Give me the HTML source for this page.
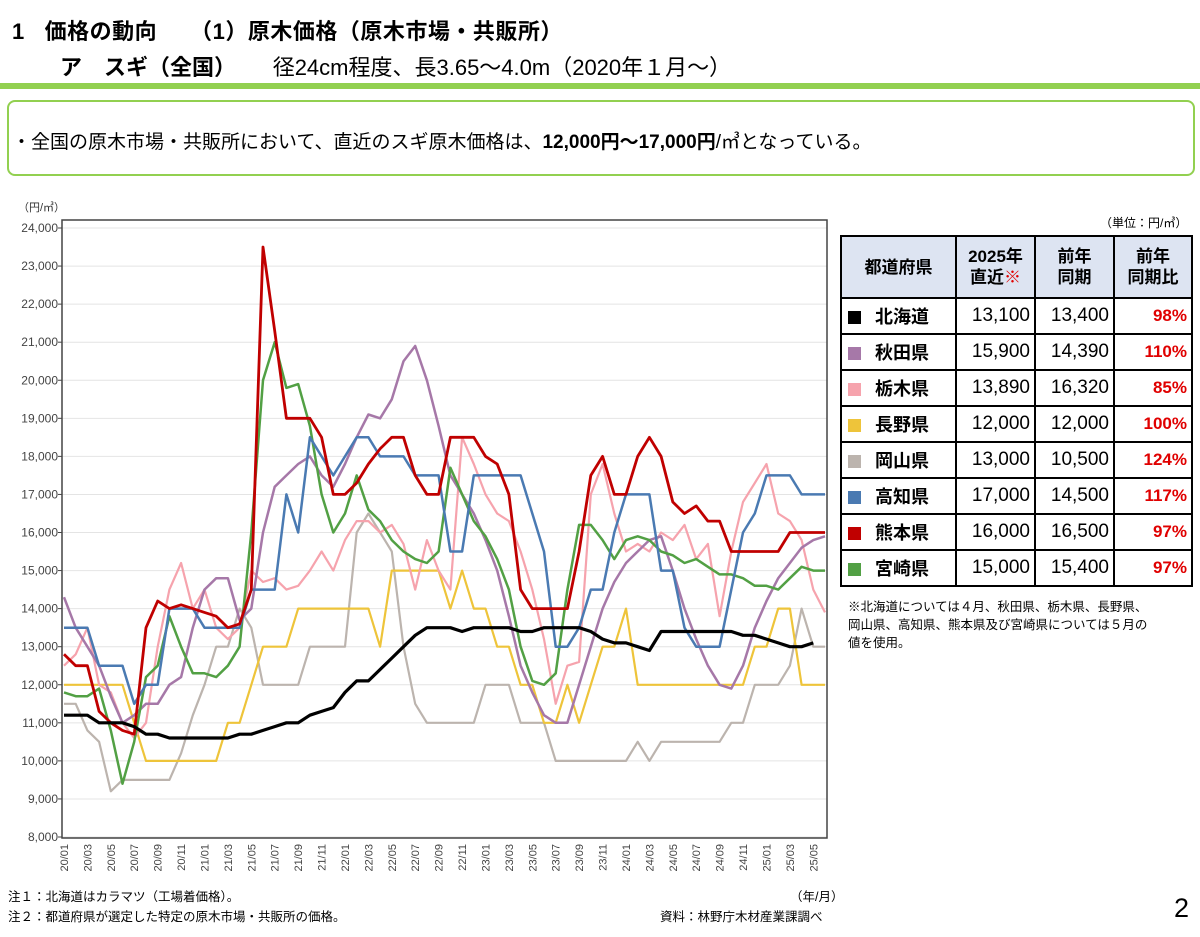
<!DOCTYPE html>
<html><head><meta charset="utf-8">
<style>
*{margin:0;padding:0;box-sizing:border-box}
body{width:1200px;height:937px;background:#fff;position:relative;overflow:hidden;font-family:"Liberation Sans","Noto Sans CJK JP",sans-serif;color:#000}
.abs{position:absolute;white-space:nowrap}
table{border-collapse:collapse;position:absolute;left:840px;top:235px;width:353px;font-family:"Liberation Sans","Noto Sans CJK JP",sans-serif}
td,th{border:2px solid #000;height:36px;font-size:18px;font-weight:bold}
th{background:#dde4f2;height:62px;font-size:17px;line-height:21px}
td.n{text-align:right;padding-right:4px;font-weight:normal;font-size:19px}
td.p{text-align:right;color:#e00000;padding-right:4px;font-size:17px}
.sw{display:inline-block;width:13px;height:13px;margin:0 14px 0 6px;vertical-align:-1px}
</style></head><body>
<div class="abs" style="left:12px;top:14px;font-size:22px;font-weight:bold;letter-spacing:0.5px">1&nbsp;&nbsp;&nbsp;価格の動向&nbsp;&nbsp;&nbsp;&nbsp;&nbsp;（1）原木価格（原木市場・共販所）</div>
<div class="abs" style="left:60px;top:50px;font-size:22px"><b>ア　スギ（全国）</b>&nbsp;&nbsp;&nbsp;&nbsp;&nbsp;&nbsp;径24cm程度、長3.65～4.0m（2020年１月～）</div>
<div class="abs" style="left:0;top:83px;width:1200px;height:6px;background:#92d050"></div>
<div class="abs" style="left:7px;top:100px;width:1188px;height:76px;border:2.5px solid #92d050;border-radius:8px"></div>
<div class="abs" style="left:12px;top:127px;font-size:19px">・全国の原木市場・共販所において、直近のスギ原木価格は、<b>12,000円～17,000円</b>/㎥となっている。</div>

<svg id="chart" width="1200" height="937" style="position:absolute;left:0;top:0"></svg>

<div class="abs" style="left:1100px;top:214px;font-size:12px">（単位：円/㎥）</div>
<table>
<tr><th style="width:115px">都道府県</th><th style="width:79px">2025年<br>直近<span style="color:#e00000">※</span></th><th style="width:79px">前年<br>同期</th><th>前年<br>同期比</th></tr>
<tr><td><span class="sw" style="background:#000"></span>北海道</td><td class="n">13,100</td><td class="n">13,400</td><td class="p">98%</td></tr>
<tr><td><span class="sw" style="background:#a678a8"></span>秋田県</td><td class="n">15,900</td><td class="n">14,390</td><td class="p">110%</td></tr>
<tr><td><span class="sw" style="background:#f6a3ad"></span>栃木県</td><td class="n">13,890</td><td class="n">16,320</td><td class="p">85%</td></tr>
<tr><td><span class="sw" style="background:#eec43a"></span>長野県</td><td class="n">12,000</td><td class="n">12,000</td><td class="p">100%</td></tr>
<tr><td><span class="sw" style="background:#bcb4ae"></span>岡山県</td><td class="n">13,000</td><td class="n">10,500</td><td class="p">124%</td></tr>
<tr><td><span class="sw" style="background:#4a7ab2"></span>高知県</td><td class="n">17,000</td><td class="n">14,500</td><td class="p">117%</td></tr>
<tr><td><span class="sw" style="background:#c00000"></span>熊本県</td><td class="n">16,000</td><td class="n">16,500</td><td class="p">97%</td></tr>
<tr><td><span class="sw" style="background:#52a044"></span>宮崎県</td><td class="n">15,000</td><td class="n">15,400</td><td class="p">97%</td></tr>
</table>
<div class="abs" style="left:848px;top:598px;font-size:12.5px;line-height:18px">※北海道については４月、秋田県、栃木県、長野県、<br>岡山県、高知県、熊本県及び宮崎県については５月の<br>値を使用。</div>
<div class="abs" style="left:8px;top:886px;font-size:12.5px">注１：北海道はカラマツ（工場着価格）。</div>
<div class="abs" style="left:8px;top:906px;font-size:12.5px">注２：都道府県が選定した特定の原木市場・共販所の価格。</div>
<div class="abs" style="left:790px;top:886px;font-size:12.5px">（年/月）</div>
<div class="abs" style="left:660px;top:906px;font-size:12.5px">資料：林野庁木材産業課調べ</div>
<div class="abs" style="left:1174px;top:893px;font-size:27px">2</div>

<script>
const months = [];
for (let y=20;y<=25;y++) for (let m=1;m<=12;m++) months.push(String(y).padStart(2,'0')+'/'+String(m).padStart(2,'0'));
const categories = months.slice(0,66);
const yTicks = [8000,9000,10000,11000,12000,13000,14000,15000,16000,17000,18000,19000,20000,21000,22000,23000,24000];
const hokkaido = [11200,11200,11200,11000,11000,11000,10900,10700,10700,10600,10600,10600,10600,10600,10600,10700,10700,10800,10900,11000,11000,11200,11300,11400,11800,12100,12100,12400,12700,13000,13300,13500,13500,13500,13400,13500,13500,13500,13500,13400,13400,13500,13500,13500,13500,13400,13200,13100,13100,13000,12900,13400,13400,13400,13400,13400,13400,13400,13300,13300,13200,13100,13000,13000,13100,null];
const akita = [14300,13500,13000,12500,11700,11000,11200,11500,11500,12000,12200,13500,14500,14800,14800,13700,14000,16000,17200,17500,17800,18000,17500,17200,17800,18500,19100,19000,19500,20500,20900,20000,18800,17500,17000,16500,15800,15000,13800,12500,11800,11200,11000,11000,12000,13000,14000,14700,15200,15500,15800,15900,15000,14000,13200,12500,12000,11900,12500,13500,14200,14800,15200,15600,15800,15900];
const tochigi = [12500,12800,13500,12000,11800,11000,10600,11000,13000,14500,15200,14000,14500,13500,13200,13500,15000,14700,14800,14500,14600,15000,15500,15000,15800,16300,16300,16000,16200,15700,14500,15800,15000,14500,18500,17800,17000,16500,16300,15500,14500,13200,11500,12500,12600,17000,17800,16500,15500,15700,15500,16000,15800,16200,15300,15700,13800,15500,16800,17300,17800,16500,16300,15800,14500,13900];
const nagano = [12000,12000,12000,12000,12000,12000,11000,10000,10000,10000,10000,10000,10000,10000,11000,11000,12000,13000,13000,13000,14000,14000,14000,14000,14000,14000,14000,13000,15000,15000,15000,15000,15000,14000,15000,14000,14000,13000,13000,12000,12000,11000,11000,12000,11000,12000,13000,13000,14000,12000,12000,12000,12000,12000,12000,12000,12000,12000,12000,13000,13000,14000,14000,12000,12000,12000];
const okayama = [11500,11500,10800,10500,9200,9500,9500,9500,9500,9500,10200,11200,12000,13000,13000,14000,13500,12000,12000,12000,12000,13000,13000,13000,13000,16000,16500,16000,15500,13000,11500,11000,11000,11000,11000,11000,12000,12000,12000,11000,11000,11000,10000,10000,10000,10000,10000,10000,10000,10500,10000,10500,10500,10500,10500,10500,10500,11000,11000,12000,12000,12000,12500,14000,13000,13000];
const kochi = [13500,13500,13500,12500,12500,12500,11500,12000,12000,14000,14000,14000,13500,13500,13500,13500,14500,14500,14500,17000,16000,18500,18000,17500,18000,18500,18500,18000,18000,18000,17500,17500,17500,15500,15500,17500,17500,17500,17500,17500,16500,15500,13000,13000,13500,14500,14500,16000,17000,17000,17000,15000,15000,13500,13000,13000,13000,14500,16000,16500,17500,17500,17500,17000,17000,17000];
const kumamoto = [12800,12500,12500,11300,11000,10800,10700,13500,14200,14000,14100,14000,13900,13800,13500,13600,14500,23500,21300,19000,19000,19000,18500,17000,17000,17300,17800,18200,18500,18500,17500,17000,17000,18500,18500,18500,18000,17800,17000,14500,14000,14000,14000,14000,15500,17500,18000,17000,17000,18000,18500,18000,16800,16500,16700,16300,16300,15500,15500,15500,15500,15500,16000,16000,16000,16000];
const miyazaki = [11800,11700,11700,11900,10800,9400,10500,12200,12500,13800,13000,12300,12300,12200,12500,13000,16000,20000,21000,19800,19900,18800,17000,16000,16500,17500,16600,16300,15800,15500,15300,15200,15500,17700,17000,16300,15900,15300,14500,13000,12100,12000,12300,14500,16200,16200,15800,15300,15800,15900,15800,15500,15400,15200,15300,15100,14900,14900,14800,14600,14600,14500,14800,15100,15000,15000];

const NS='http://www.w3.org/2000/svg';
const svg=document.getElementById('chart');
const L=62,R=827,T=220,B=838;
const vMin=8000,vMax=24000,yTop=228,yBot=837;
function y(v){return yBot-(v-vMin)/(vMax-vMin)*(yBot-yTop);}
const x0=64,x1=825;
function x(i){return x0+i*(x1-x0)/(categories.length-1);}
function mk(tag,attrs){const e=document.createElementNS(NS,tag);for(const k in attrs)e.setAttribute(k,attrs[k]);svg.appendChild(e);return e;}

const unit=mk('text',{x:18,y:211,'font-size':11,fill:'#333'});
unit.textContent='（円/㎥）';


yTicks.forEach(v=>{
  const g=mk('line',{x1:L,x2:R,y1:y(v),y2:y(v),stroke:'#e4e4e4','stroke-width':1});
  
  
  const tk=mk('line',{x1:L-4,x2:L,y1:y(v),y2:y(v),stroke:'#444'});
  
  
  const t=mk('text',{x:L-4,y:y(v)+4,'text-anchor':'end','font-size':12,fill:'#444'});
  t.textContent=v.toLocaleString('en-US');
  
  
});
const frame=mk('rect',{x:L,y:T,width:R-L,height:B-T,fill:'none',stroke:'#444','stroke-width':1.5});


categories.forEach((c,i)=>{
  if(i%2!==0)return;
  const t=mk('text',{x:0,y:0,'font-size':11,fill:'#444','text-anchor':'end',transform:`translate(${x(i)+4},${B+6}) rotate(-90)`});
  t.textContent=c;
  
  
});
const series=[
 ['okayama',okayama,'#bcb4ae',2.2],
 ['nagano',nagano,'#eec43a',2.2],
 ['tochigi',tochigi,'#f6a3ad',2.2],
 ['akita',akita,'#a678a8',2.5],
 ['miyazaki',miyazaki,'#52a044',2.5],
 ['kochi',kochi,'#4a7ab2',2.5],
 ['kumamoto',kumamoto,'#c00000',2.8],
 ['hokkaido',hokkaido,'#000',3.2]];
series.forEach(([n,d,col,w])=>{
  let p='';
  d.forEach((v,i)=>{if(v==null)return;p+=(p?'L':'M')+x(i).toFixed(1)+','+y(v).toFixed(1);});
  const el=mk('path',{d:p,fill:'none',stroke:col,'stroke-width':w,'stroke-linejoin':'round'});
  
  
});
</script>
</body></html>
